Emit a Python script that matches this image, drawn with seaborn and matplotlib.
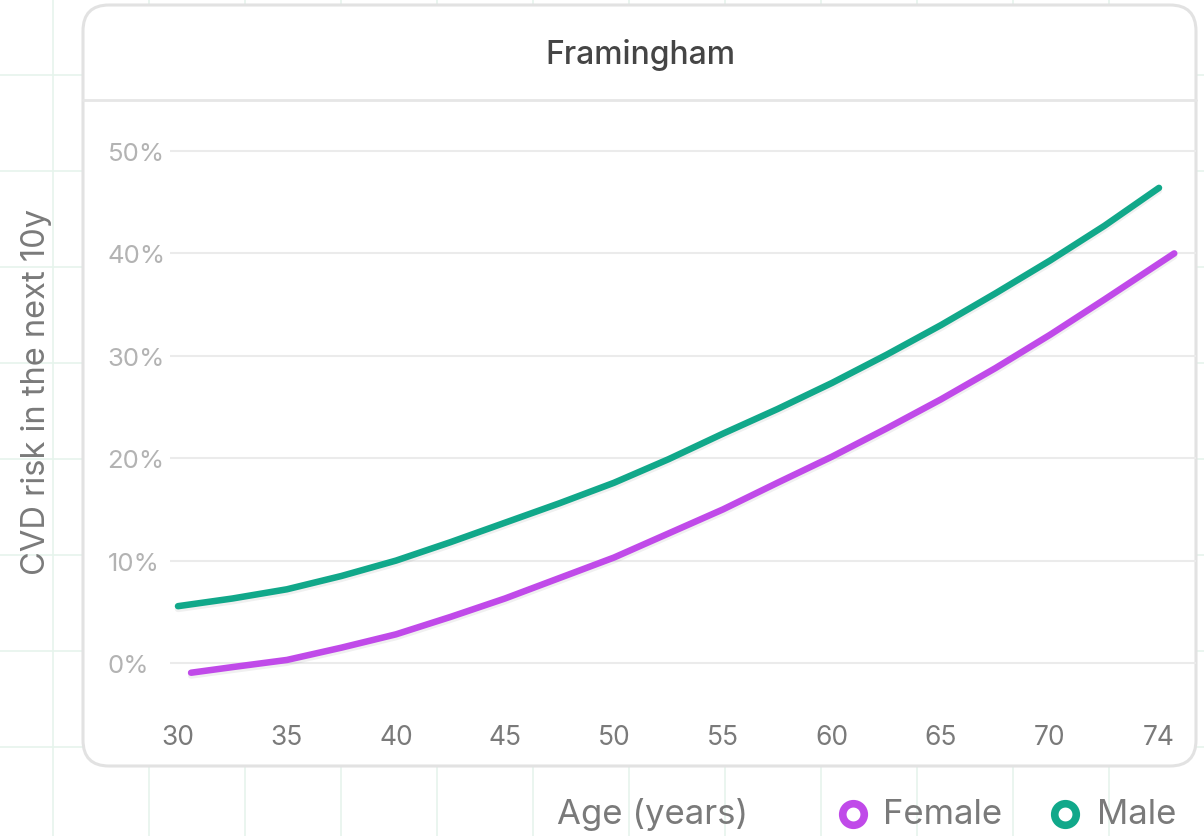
import matplotlib.pyplot as plt
import matplotlib.patheffects as pe
from matplotlib.patches import FancyBboxPatch
from matplotlib.lines import Line2D
import pandas as pd
import seaborn as sns

# Data (10y CVD risk in %)
male_age = [30, 32.5, 35, 37.5, 40, 42.5, 45, 47.5, 50, 52.5, 55, 57.5, 60, 62.5, 65, 67.5, 70, 72.5, 75]
male_risk = [5.55, 6.3, 7.2, 8.5, 10.0, 11.8, 13.7, 15.6, 17.6, 19.9, 22.4, 24.8, 27.35,
             30.1, 33.0, 36.1, 39.3, 42.7, 46.4]
female_age = [30.6, 32.5, 35, 37.5, 40, 42.5, 45, 47.5, 50, 52.5, 55, 57.5, 60, 62.5, 65, 67.5, 70, 72.5, 75.7]
female_risk = [-0.95, -0.4, 0.3, 1.5, 2.8, 4.5, 6.3, 8.3, 10.3, 12.65, 15.0, 17.6, 20.15,
               22.9, 25.75, 28.8, 32.05, 35.5, 40.0]

x_ticks = [30, 35, 40, 45, 50, 55, 60, 65, 70, 75]
x_labels = ['30', '35', '40', '45', '50', '55', '60', '65', '70', '74']
y_ticks = [0, 10, 20, 30, 40, 50]
y_labels = ['0%', '10%', '20%', '30%', '40%', '50%']

colors = {'Female': '#c04ae9', 'Male': '#11a88a'}

df = pd.concat([
    pd.DataFrame({'age': female_age, 'risk': female_risk, 'sex': 'Female'}),
    pd.DataFrame({'age': male_age, 'risk': male_risk, 'sex': 'Male'}),
])

sns.set_theme(style='white')
plt.rcParams['font.family'] = ['Inter', 'DejaVu Sans']

W, H = 1204, 837
fig = plt.figure(figsize=(W / 100, H / 100), dpi=100)
fig.patch.set_facecolor('white')

# background: faint green grid + card, in pixel coordinates
bg = fig.add_axes([0, 0, 1, 1], zorder=0)
bg.set_xlim(0, W)
bg.set_ylim(H, 0)
bg.axis('off')
for x in range(53, W, 96):
    bg.axvline(x, color='#e6f4ec', lw=1.2, zorder=0)
for y in range(76, H, 96):
    bg.axhline(y, color='#e6f4ec', lw=1.2, zorder=0)

card = FancyBboxPatch((83, 6), 1113, 761, boxstyle='round,pad=0,rounding_size=26',
                      facecolor='white', edgecolor='#e2e2e2', lw=2.2, zorder=3)
bg.add_patch(card)
bg.plot([83, 1196], [101, 101], color='#e6e6e6', lw=2, zorder=4)
bg.text(640, 55, 'Framingham', ha='center', va='center', fontsize=23, fontweight='medium',
        color='#454545', zorder=5)

# main plot area
left, right, top, bottom = 170, 1196, 110, 700
ax = fig.add_axes([left / W, 1 - bottom / H, (right - left) / W, (bottom - top) / H], zorder=2)
ax.patch.set_alpha(0)

sns.lineplot(data=df, x='age', y='risk', hue='sex', palette=colors, linewidth=4.7,
             legend=False, estimator=None, sort=True, ax=ax)
for line in ax.lines:
    line.set_solid_capstyle('round')
    line.set_solid_joinstyle('round')
    line.set_path_effects([pe.SimpleLineShadow(offset=(0, -2), shadow_color='black', alpha=0.06),
                           pe.Normal()])

px_x = 21.8
px_y = 10.24
ax.set_xlim(30 - 8 / px_x, 30 + (right - 178) / px_x)
ax.set_ylim((664 - bottom) / px_y, (664 - top) / px_y)

ax.set_xticks(x_ticks)
ax.set_xticklabels(x_labels)
ax.set_yticks(y_ticks)
ax.set_yticklabels(y_labels)
ax.tick_params(axis='x', length=0, pad=18, labelsize=19, labelcolor='#7a7a7a')
ax.tick_params(axis='y', length=0, pad=45, labelsize=18.5, labelcolor='#b3b3b3')
for t in ax.get_yticklabels():
    t.set_ha('left')
ax.grid(axis='y', color='#ebebeb', lw=1.5)
ax.grid(axis='x', visible=False)
for s in ax.spines.values():
    s.set_visible(False)
ax.set_xlabel('')
ax.set_ylabel('')

# axis titles and legend outside the card
fig.text(37 / W, 1 - 392 / H, 'CVD risk in the next 10y', rotation=90, ha='center', va='center',
         fontsize=23.5, color='#7a7a7a')
fig.text(653 / W, 1 - 815 / H, 'Age (years)', ha='center', va='center', fontsize=25, color='#7a7a7a')

for mx, tx, name in [(853, 883, 'Female'), (1065, 1097, 'Male')]:
    fig.add_artist(Line2D([mx / W], [1 - 815 / H], transform=fig.transFigure, marker='o',
                          markersize=15.5, markerfacecolor='white', markeredgecolor=colors[name],
                          markeredgewidth=5.5, linestyle='none'))
    fig.text(tx / W, 1 - 815 / H, name, ha='left', va='center', fontsize=25, color='#7a7a7a')

fig.savefig('out.png', dpi=100)
